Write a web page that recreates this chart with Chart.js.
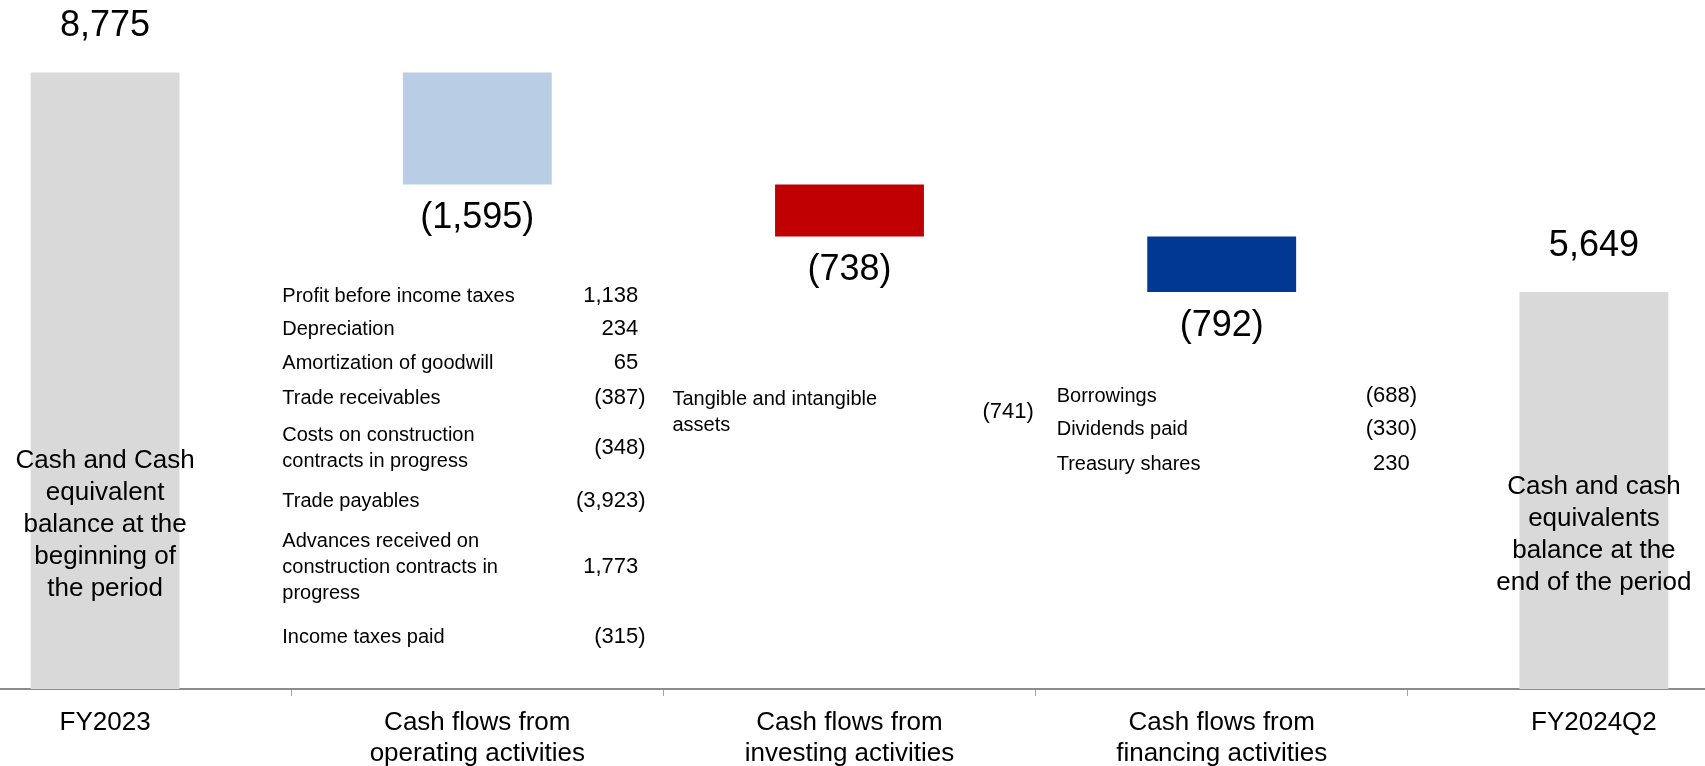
<!DOCTYPE html>
<html>
<head>
<meta charset="utf-8">
<script src="https://cdn.jsdelivr.net/npm/chart.js@4.4.0/dist/chart.umd.min.js"></script>
<style>
    html, body { margin: 0; padding: 0; background: #fff; overflow: hidden; }
    #wrap { position: relative; width: 1705px; height: 766px; overflow: hidden; }
    /* plot area is wider than the page, first and last categories are cut at the edges */
    #myChart { position: absolute; left: -81px; top: 0; }
</style>
</head>
<body>
<div id="wrap"><canvas id="myChart" width="1861" height="766"></canvas></div>
<script>
// data
var categories = [
    ['FY2023'],
    ['Cash flows from', 'operating activities'],
    ['Cash flows from', 'investing activities'],
    ['Cash flows from', 'financing activities'],
    ['FY2024Q2']
];
var openingBalance = 8775;
var flowValues = [-1595, -738, -792];
var closingBalance = 5649;

var balanceNotes = [
    ['Cash and Cash', 'equivalent', 'balance at the', 'beginning of', 'the period'],
    ['Cash and cash', 'equivalents', 'balance at the', 'end of the period']
];

var operatingItems = ['Profit before income taxes', 'Depreciation', 'Amortization of goodwill', 'Trade receivables',
    'Costs on construction\ncontracts in progress', 'Trade payables',
    'Advances received on\nconstruction contracts in\nprogress', 'Income taxes paid'];
var operatingValues = [1138, 234, 65, -387, -348, -3923, 1773, -315];
var investingItems = ['Tangible and intangible\nassets'];
var investingValues = [-741];
var financingItems = ['Borrowings', 'Dividends paid', 'Treasury shares'];
var financingValues = [-688, -330, 230];

// styles / layout
var FONT = '"Liberation Sans", Arial, sans-serif';
var barColors = ['#d9d9d9', '#b9cde5', '#c00000', '#003893', '#d9d9d9'];
var noteCenterY = [525, 535];
var detailTables = [
    { index: 1, items: operatingItems, values: operatingValues, left: -195, right: 161, rows: [296, 329, 363, 398, 448, 501, 567, 637] },
    { index: 2, items: investingItems, values: investingValues, left: -177, right: 177, rows: [412] },
    { index: 3, items: financingItems, values: financingValues, left: -165, right: 188, rows: [396, 429, 464] }
];

function fmt(v) {
    var s = Math.abs(v).toLocaleString('en-US');
    return v < 0 ? '(' + s + ')' : s;
}

// floating bars for the waterfall
var running = openingBalance;
var ranges = [[0, openingBalance]];
flowValues.forEach(function (v) {
    ranges.push([running + v, running]);
    running += v;
});
ranges.push([0, closingBalance]);
var labelValues = [openingBalance].concat(flowValues).concat([closingBalance]);

// draws a number so that the digits line up and ")" hangs to the right
function drawNumber(ctx, v, xRight, y) {
    var s = fmt(v);
    ctx.textAlign = 'right';
    if (v < 0) {
        ctx.fillText(s, xRight + ctx.measureText(')').width, y);
    } else {
        ctx.fillText(s, xRight, y);
    }
}

var labelsPlugin = {
    id: 'waterfallLabels',
    afterDatasetsDraw: function (chart) {
        var ctx = chart.ctx;
        var bars = chart.getDatasetMeta(0).data;
        ctx.save();
        ctx.fillStyle = '#000';
        ctx.textBaseline = 'middle';

        bars.forEach(function (bar, i) {
            var top = Math.min(bar.y, bar.base);
            var bottom = Math.max(bar.y, bar.base);
            ctx.font = '36px ' + FONT;
            ctx.textAlign = 'center';
            if (i === 0 || i === bars.length - 1) {
                ctx.fillText(fmt(labelValues[i]), bar.x, top - 46);
            } else {
                ctx.fillText(fmt(labelValues[i]), bar.x, bottom + 34);
            }
        });

        // text inside the balance bars
        ctx.font = '26px ' + FONT;
        ctx.textAlign = 'center';
        [0, bars.length - 1].forEach(function (idx, k) {
            var lines = balanceNotes[k];
            var y0 = noteCenterY[k] - (lines.length - 1) * 32 / 2;
            lines.forEach(function (line, j) {
                ctx.fillText(line, bars[idx].x, y0 + j * 32);
            });
        });

        // breakdown tables
        detailTables.forEach(function (t) {
            var cx = bars[t.index].x;
            t.items.forEach(function (item, j) {
                var lines = item.split('\n');
                var y0 = t.rows[j] - (lines.length - 1) * 26 / 2;
                ctx.font = '20px ' + FONT;
                ctx.textAlign = 'left';
                lines.forEach(function (line, k) {
                    ctx.fillText(line, cx + t.left, y0 + k * 26);
                });
                ctx.font = '22px ' + FONT;
                drawNumber(ctx, t.values[j], cx + t.right, t.rows[j]);
            });
        });
        ctx.restore();
    }
};

var ctx = document.getElementById('myChart').getContext('2d');
var myChart = new Chart(ctx, {
    type: 'bar',
    data: {
        labels: categories,
        datasets: [{
            data: ranges,
            backgroundColor: barColors,
            borderWidth: 0,
            categoryPercentage: 1,
            barPercentage: 0.4
        }]
    },
    options: {
        responsive: false,
        animation: false,
        layout: { padding: 0 },
        plugins: {
            legend: { display: false },
            tooltip: { enabled: false }
        },
        scales: {
            x: {
                offset: true,
                grid: {
                    display: true,
                    offset: true,
                    drawOnChartArea: false,
                    drawTicks: true,
                    tickLength: 7,
                    color: '#a6a6a6',
                    lineWidth: 1
                },
                border: { display: true, color: '#8c8c8c', width: 2 },
                ticks: {
                    color: '#000',
                    font: { family: FONT, size: 26, lineHeight: 1.2 },
                    padding: 11,
                    maxRotation: 0,
                    autoSkip: false
                },
                afterFit: function (scale) { scale.height = 77; }
            },
            y: {
                display: false,
                min: 0,
                max: 9807
            }
        }
    },
    plugins: [labelsPlugin]
});
</script>
</body>
</html>
